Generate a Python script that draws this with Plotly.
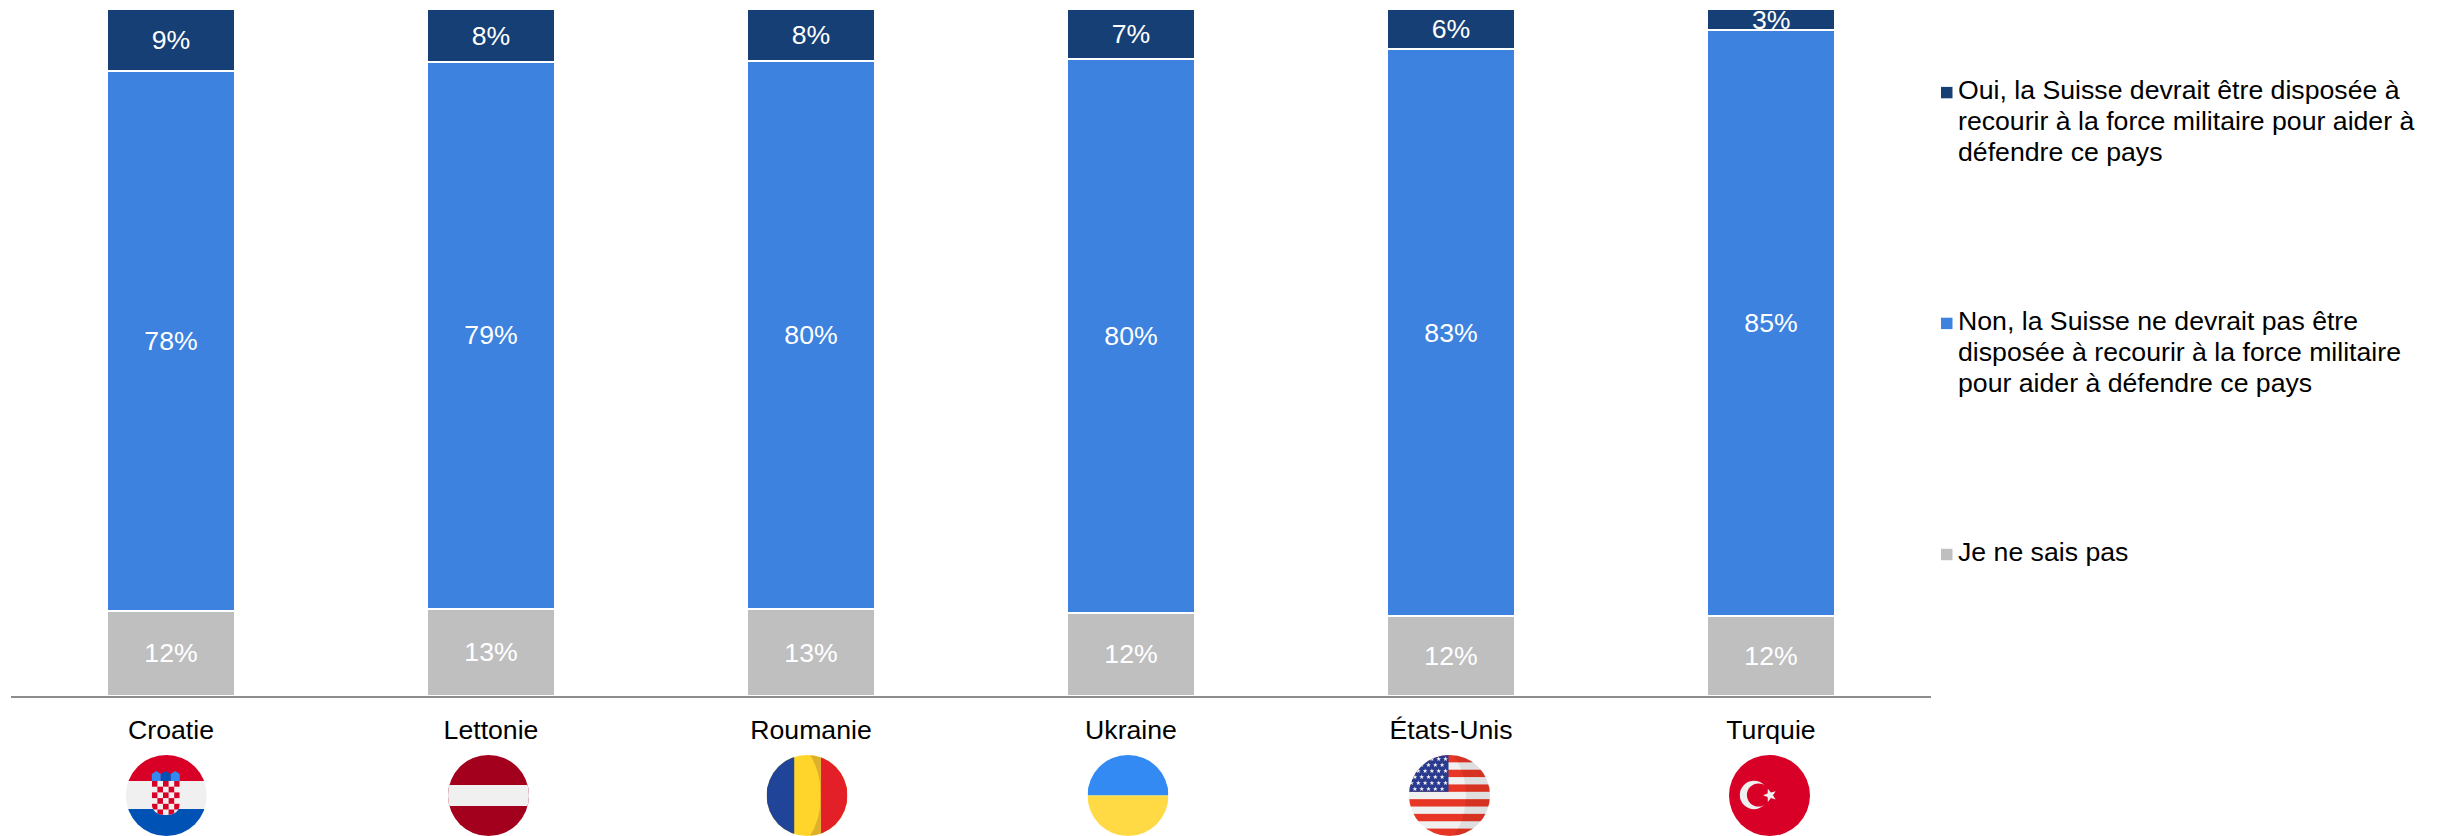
import base64
import math
import plotly.graph_objects as go

pays = ["Croatie", "Lettonie", "Roumanie", "Ukraine", "États-Unis", "Turquie"]
oui = [9.0, 7.7, 7.6, 7.2, 5.8, 3.1]
non = [78.4, 79.4, 79.8, 80.4, 82.6, 85.3]
nsp = [12.4, 12.7, 12.6, 12.1, 11.6, 11.6]

noms = ["Oui", "Non", "Je ne sais pas"]
legende_oui = ["Oui, la Suisse devrait être disposée à", "recourir à la force militaire pour aider à", "défendre ce pays"]
legende_non = ["Non, la Suisse ne devrait pas être", "disposée à recourir à la force militaire", "pour aider à défendre ce pays"]
legende_nsp = ["Je ne sais pas"]
couleurs = ["#163F75", "#3D82DE", "#BFBFBF"]
FONT = "Liberation Sans, Arial, sans-serif"
TAILLE = 26.67

W, H = 2442, 836
L, R, T, B = 11, 511, 9, 140
PW, PH = W - L - R, H - T - B


def px(x):
    return (x - L) / PW


def py(y):
    return (H - B - y) / PH


def star(cx, cy, r, fill, rot=-90):
    pts = []
    for i in range(10):
        rr = r if i % 2 == 0 else r * 0.42
        a = math.radians(rot + i * 36)
        pts.append(f"{cx + rr * math.cos(a):.2f},{cy + rr * math.sin(a):.2f}")
    return f'<polygon points="{" ".join(pts)}" fill="{fill}"/>'


def croatia():
    s = '<rect width="81" height="81" fill="#F0F0F0"/>'
    s += '<rect width="81" height="26" fill="#D80027"/><rect y="54" width="81" height="27" fill="#0052B4"/>'
    s += '<clipPath id="sh"><path d="M26 26H54V48Q54 60 40 60Q26 60 26 48Z"/></clipPath><g clip-path="url(#sh)">'
    s += '<rect x="26" y="26" width="28" height="34" fill="#F0F0F0"/>'
    for r in range(6):
        for c in range(5):
            if (r + c) % 2 == 0:
                s += f'<rect x="{26 + c * 5.6:.1f}" y="{26 + r * 5.7:.1f}" width="5.6" height="5.7" fill="#D80027"/>'
    s += '</g>'
    s += '<path d="M26 26V19L30.5 16L35 19V26Z" fill="#338AF3"/>'
    s += '<path d="M35 26V19L40 16L45 19V26Z" fill="#0052B4"/>'
    s += '<path d="M45 26V19L49.5 16L54 19V26Z" fill="#338AF3"/>'
    return s


def latvia():
    return '<rect width="81" height="81" fill="#A2001D"/><rect y="30" width="81" height="21" fill="#F0F0F0"/>'


def romania():
    s = '<rect width="81" height="81" fill="#FFD52B"/>'
    s += '<rect width="27.7" height="81" fill="#1F4498"/><rect x="54.3" width="26.7" height="81" fill="#E32028"/>'
    s += '<clipPath id="yl"><rect x="27.7" width="26.6" height="81"/></clipPath>'
    s += '<path clip-path="url(#yl)" fill-rule="evenodd" fill="#DDB12C" d="M0 0H81V81H0Z M-26.5 40.5a40.5 59 0 1 0 81 0a40.5 59 0 1 0 -81 0Z"/>'
    return s


def ukraine():
    return '<rect width="81" height="40.5" fill="#338AF3"/><rect y="40.5" width="81" height="40.5" fill="#FFDA44"/>'


def usa():
    s = '<rect width="81" height="81" fill="#F0F0F0"/>'
    for i in range(0, 11, 2):
        s += f'<rect y="{i * 7.36:.2f}" width="81" height="7.36" fill="#E73625"/>'
    s += '<rect width="39.5" height="36.8" fill="#2A3B8F"/>'
    for r in range(6):
        y = 4 + r * 6
        x = 38 - (r % 2) * 3.4
        while x > 0:
            s += star(x - 1.5, y, 2.5, "#F0F0F0")
            x -= 6.8
    s += '<clipPath id="sd"><path d="M39.5 0H81V81H0V36.8H39.5Z"/></clipPath>'
    s += '<path clip-path="url(#sd)" fill-rule="evenodd" fill="#000" fill-opacity="0.07" d="M0 0H81V81H0Z M-23 40.5a40 55 0 1 0 80 0a40 55 0 1 0 -80 0Z"/>'
    return s


def turkey():
    s = '<rect width="81" height="81" fill="#D80027"/>'
    s += '<circle cx="25" cy="40" r="14.2" fill="#F0F0F0"/><circle cx="29.5" cy="40" r="11.6" fill="#D80027"/>'
    s += star(41, 40.3, 7, "#F0F0F0", rot=180)
    return s


def image_drapeau(corps):
    svg = ('<svg xmlns="http://www.w3.org/2000/svg" width="324" height="324" viewBox="0 0 81 81">'
           '<clipPath id="c"><circle cx="40.5" cy="40.5" r="40.5"/></clipPath>'
           f'<g clip-path="url(#c)">{corps}</g></svg>')
    return "data:image/svg+xml;base64," + base64.b64encode(svg.encode()).decode()


drapeaux = [croatia(), latvia(), romania(), ukraine(), usa(), turkey()]
centres_drapeaux = [166.3, 488.5, 807, 1128, 1449.5, 1769.5]
D = 81
images = []
for corps, cx in zip(drapeaux, centres_drapeaux):
    images.append(dict(
        source=image_drapeau(corps), xref="paper", yref="paper",
        x=px(cx - D / 2), y=py(755), sizex=D / PW, sizey=D / PH,
        xanchor="left", yanchor="top", sizing="stretch", layer="above",
    ))

# legend drawn by hand: swatch on the first line, tight line spacing
annotations = []
shapes = []
for lignes, y0, coul in [(legende_oui, 92.6, couleurs[0]), (legende_non, 323.4, couleurs[1]), (legende_nsp, 554.5, couleurs[2])]:
    shapes.append(dict(type="rect", xref="paper", yref="paper", x0=px(1941), x1=px(1952.5),
                       y0=py(y0 - 5.7), y1=py(y0 + 5.7), fillcolor=coul, line_width=0))
    for i, ligne in enumerate(lignes):
        annotations.append(dict(
            text=ligne, xref="paper", yref="paper", x=px(1957), y=py(y0 + i * 31 - 2.5),
            xanchor="left", yanchor="middle", showarrow=False, borderpad=0,
            font=dict(family=FONT, size=TAILLE, color="black"),
        ))

# the 3 % label is taller than its bar, so it is placed as an annotation
textes_oui = [f"{v:.0f}%" if v > 4 else "" for v in oui]
for p, o, n, s in zip(pays, oui, non, nsp):
    if o <= 4:
        annotations.append(dict(
            text=f"{o:.0f}%", x=p, y=100 - 100 * o / (o + n + s) / 2, xref="x", yref="y",
            showarrow=False, borderpad=0, font=dict(family=FONT, size=TAILLE, color="white"),
        ))

fig = go.Figure()
for nom, vals, coul, txt in [
    (noms[2], nsp, couleurs[2], [f"{v:.0f}%" for v in nsp]),
    (noms[1], non, couleurs[1], [f"{v:.0f}%" for v in non]),
    (noms[0], oui, couleurs[0], textes_oui),
]:
    fig.add_trace(go.Bar(
        x=pays, y=vals, name=nom, text=txt,
        marker=dict(color=coul, line=dict(color="white", width=2)),
        textposition="inside", insidetextanchor="middle",
        textangle=0, constraintext="none",
        insidetextfont=dict(family=FONT, size=TAILLE, color="white"),
        cliponaxis=False, hoverinfo="skip",
    ))

fig.update_layout(
    width=W, height=H, autosize=False,
    margin=dict(l=L, r=R, t=T, b=B, pad=0),
    paper_bgcolor="white", plot_bgcolor="white",
    barmode="stack", barnorm="percent", bargap=0.6,
    font=dict(family=FONT, color="black", size=TAILLE),
    images=images, annotations=annotations, shapes=shapes,
    showlegend=False,
    xaxis=dict(
        type="category", categoryorder="array", categoryarray=pays,
        showgrid=False, zeroline=False, showline=True, linecolor="#8C8C8C", linewidth=2,
        ticks="", ticklabelstandoff=9,
        tickfont=dict(family=FONT, size=TAILLE, color="black"),
    ),
    yaxis=dict(range=[0, 100], visible=False, showgrid=False, zeroline=False),
)

fig.write_html("out.html", config=dict(displayModeBar=False),
               post_script="document.body.style.margin='0';document.documentElement.style.overflow='hidden';")
